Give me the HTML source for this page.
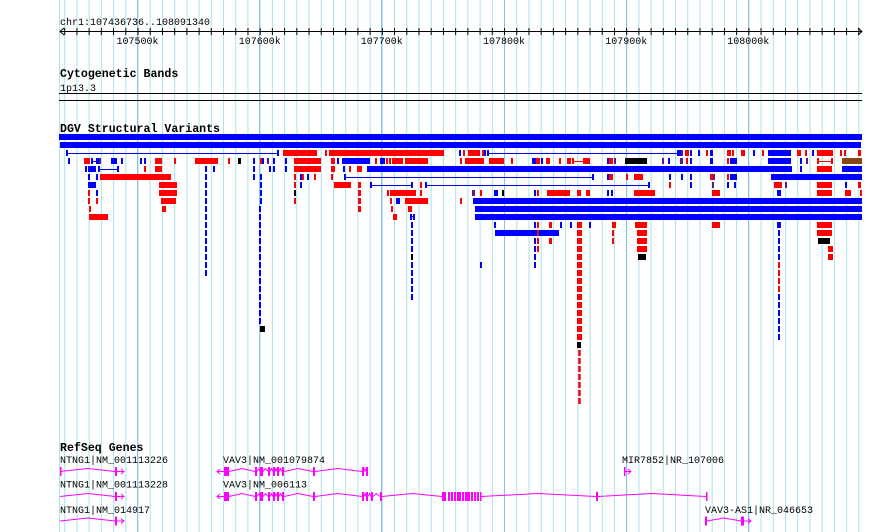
<!DOCTYPE html>
<html><head><meta charset="utf-8"><style>
html,body{margin:0;padding:0;background:#fff;}
svg{display:block;}
text{font-family:"Liberation Mono",monospace;font-size:10px;fill:#000;}
.t{font-weight:bold;font-size:11.6px;}
.r{fill:#ff0000}.b{fill:#0000ff}.k{fill:#000}.p{fill:#5a1a8a}.n{fill:#8b4513}
.g{fill:#ff00ff}
</style></head><body>
<svg width="890" height="532" viewBox="0 0 890 532" xmlns="http://www.w3.org/2000/svg">
<defs>
<pattern id="grid" patternUnits="userSpaceOnUse" x="64.2" y="0" width="12.217" height="10">
<rect x="0" y="0" width="1" height="10" fill="#a9e3ec"/>
</pattern>
<pattern id="tk" patternUnits="userSpaceOnUse" x="64.2" y="0" width="12.217" height="10">
<rect x="0" y="0" width="1" height="10" fill="#000"/>
</pattern>
</defs>
<rect x="0" y="0" width="890" height="532" fill="#fff"/>
<rect x="64" y="0" width="796" height="532" fill="url(#grid)"/>
<rect x="59" y="0" width="1" height="532" fill="#a9e3ec"/>
<g fill="#86c4e4">
<rect x="137" y="0" width="1" height="532"/><rect x="259" y="0" width="1" height="532"/>
<rect x="381" y="0" width="1" height="532"/><rect x="504" y="0" width="1" height="532"/>
<rect x="626" y="0" width="1" height="532"/><rect x="748" y="0" width="1" height="532"/>
</g>

<!-- ruler -->
<text x="60" y="25">chr1:107436736..108091340</text>
<rect x="60" y="31" width="802" height="1" fill="#000"/>
<rect x="64" y="28" width="796" height="7" fill="url(#tk)"/>
<path d="M64 28 L60 31.5 L64 35 M858 28 L862 31.5 L858 35" stroke="#000" fill="none"/>
<g text-anchor="middle">
<text x="137.5" y="44">107500k</text><text x="259.7" y="44">107600k</text>
<text x="381.8" y="44">107700k</text><text x="504" y="44">107800k</text>
<text x="626.2" y="44">107900k</text><text x="748.3" y="44">108000k</text>
</g>

<text class="t" x="60" y="77">Cytogenetic Bands</text>
<text x="60" y="91">1p13.3</text>
<rect x="59" y="93" width="803" height="1" fill="#000"/>
<rect x="59" y="100" width="803" height="1" fill="#000"/>

<text class="t" x="60" y="132">DGV Structural Variants</text>
<rect class="b" x="59" y="134" width="803" height="6"/>
<rect class="b" x="60" y="142" width="801" height="6"/>

<!-- row2 y150 -->
<g>
<rect class="b" x="66" y="153" width="212" height="1"/><rect class="b" x="66" y="150" width="2" height="6"/><rect class="b" x="277" y="150" width="2" height="6"/>
<rect class="r" x="283" y="150" width="34" height="6"/><rect class="r" x="325" y="150" width="2" height="6"/><rect class="r" x="329" y="150" width="115" height="6"/>
<rect class="b" x="459" y="150" width="2" height="6"/><rect class="r" x="463" y="150" width="2" height="6"/><rect class="r" x="468" y="150" width="12" height="6"/>
<rect class="r" x="482" y="150" width="2" height="6"/><rect class="b" x="484" y="150" width="2" height="6"/><rect class="b" x="487" y="150" width="2" height="6"/>
<rect class="b" x="489" y="153" width="188" height="1"/><rect class="b" x="677" y="150" width="5" height="6"/><rect class="p" x="681" y="150" width="2" height="6"/>
<rect class="r" x="685" y="150" width="4" height="6"/><rect class="b" x="690" y="150" width="2" height="6"/><rect class="b" x="698" y="150" width="2" height="6"/>
<rect class="r" x="706" y="150" width="2" height="6"/><rect class="b" x="710" y="150" width="3" height="6"/><rect class="r" x="727" y="150" width="4" height="6"/>
<rect class="r" x="732" y="150" width="2" height="6"/><rect class="r" x="741" y="150" width="4" height="6"/><rect class="b" x="753" y="150" width="2" height="6"/>
<rect class="r" x="762" y="150" width="2" height="6"/><rect class="b" x="768" y="150" width="23" height="6"/><rect class="r" x="797" y="150" width="4" height="6"/>
<rect class="r" x="805" y="150" width="2" height="6"/><rect class="b" x="812" y="150" width="2" height="6"/><rect class="r" x="817" y="150" width="16" height="6"/>
<rect class="r" x="840" y="150" width="2" height="6"/><rect class="r" x="844" y="150" width="2" height="6"/><rect class="r" x="858" y="150" width="3" height="6"/>
</g>
<!-- row3 y158 -->
<g>
<rect class="b" x="68" y="158" width="2" height="6"/><rect class="r" x="84" y="158" width="6" height="6"/><rect class="b" x="91" y="158" width="2" height="6"/>
<rect class="b" x="93" y="161" width="4" height="1"/><rect class="b" x="96" y="158" width="3" height="6"/><rect class="p" x="99" y="158" width="2" height="6"/>
<rect class="b" x="111" y="158" width="6" height="6"/><rect class="b" x="121" y="158" width="2" height="6"/><rect class="b" x="140" y="158" width="2" height="6"/>
<rect class="b" x="144" y="158" width="2" height="6"/><rect class="r" x="155" y="158" width="7" height="6"/><rect class="r" x="174" y="158" width="2" height="6"/>
<rect class="r" x="195" y="158" width="23" height="6"/><rect class="r" x="228" y="158" width="2" height="6"/><rect class="k" x="238" y="158" width="3" height="6"/>
<rect class="b" x="253" y="158" width="2" height="6"/><rect class="r" x="260" y="158" width="2" height="6"/><rect class="b" x="262" y="158" width="2" height="6"/>
<rect class="p" x="267" y="158" width="2" height="6"/><rect class="b" x="273" y="158" width="2" height="6"/><rect class="b" x="285" y="158" width="2" height="6"/>
<rect class="r" x="294" y="158" width="27" height="6"/><rect class="r" x="331" y="158" width="4" height="6"/><rect class="b" x="337" y="158" width="2" height="6"/>
<rect class="b" x="342" y="158" width="28" height="6"/><rect class="r" x="375" y="158" width="2" height="6"/><rect class="b" x="380" y="158" width="5" height="6"/>
<rect class="r" x="386" y="158" width="2" height="6"/><rect class="r" x="389" y="158" width="2" height="6"/><rect class="r" x="392" y="158" width="11" height="6"/>
<rect class="r" x="405" y="158" width="23" height="6"/><rect class="r" x="460" y="158" width="2" height="6"/><rect class="r" x="465" y="158" width="19" height="6"/>
<rect class="r" x="489" y="158" width="15" height="6"/><rect class="r" x="511" y="158" width="2" height="6"/><rect class="b" x="532" y="158" width="4" height="6"/>
<rect class="r" x="536" y="158" width="4" height="6"/><rect class="b" x="541" y="158" width="2" height="6"/><rect class="r" x="546" y="158" width="4" height="6"/>
<rect class="r" x="559" y="158" width="2" height="6"/><rect class="r" x="567" y="158" width="4" height="6"/>
<rect class="r" x="572" y="158" width="2" height="6"/><rect class="r" x="572" y="161" width="12" height="1"/><rect class="r" x="583" y="158" width="7" height="6"/>
<rect class="b" x="607" y="158" width="2" height="6"/><rect class="r" x="609" y="158" width="4" height="6"/><rect class="p" x="614" y="158" width="2" height="6"/>
<rect class="k" x="625" y="158" width="22" height="6"/><rect class="p" x="662" y="158" width="2" height="6"/><rect class="b" x="668" y="158" width="2" height="6"/>
<rect class="p" x="680" y="158" width="3" height="6"/><rect class="r" x="686" y="158" width="2" height="6"/><rect class="b" x="690" y="158" width="2" height="6"/>
<rect class="b" x="710" y="158" width="3" height="6"/><rect class="r" x="727" y="158" width="2" height="6"/><rect class="b" x="730" y="158" width="7" height="6"/>
<rect class="b" x="768" y="158" width="23" height="6"/><rect class="b" x="800" y="158" width="2" height="6"/><rect class="p" x="806" y="158" width="2" height="6"/>
<rect class="r" x="817" y="158" width="2" height="6"/><rect class="r" x="819" y="161" width="12" height="1"/><rect class="r" x="831" y="158" width="2" height="6"/>
<rect class="n" x="842" y="158" width="20" height="6"/>
</g>
<!-- row4 y166 -->
<g>
<rect class="b" x="85" y="166" width="2" height="6"/><rect class="b" x="88" y="166" width="8" height="6"/>
<rect class="b" x="98" y="166" width="2" height="6"/><rect class="b" x="98" y="169" width="20" height="1"/><rect class="b" x="117" y="166" width="2" height="6"/>
<rect class="r" x="144" y="166" width="2" height="6"/><rect class="r" x="155" y="166" width="7" height="6"/><rect class="b" x="205" y="166" width="2" height="6"/>
<rect class="b" x="213" y="166" width="2" height="6"/><rect class="b" x="253" y="166" width="2" height="6"/><rect class="b" x="269" y="166" width="2" height="6"/>
<rect class="b" x="273" y="166" width="2" height="6"/><rect class="b" x="285" y="166" width="2" height="6"/><rect class="r" x="294" y="166" width="27" height="6"/>
<rect class="r" x="331" y="166" width="4" height="6"/><rect class="b" x="343" y="166" width="2" height="6"/><rect class="r" x="349" y="166" width="2" height="6"/>
<rect class="r" x="357" y="166" width="5" height="6"/><rect class="b" x="367" y="166" width="425" height="6"/><rect class="b" x="800" y="166" width="2" height="6"/>
<rect class="r" x="817" y="166" width="15" height="6"/><rect class="b" x="842" y="166" width="20" height="6"/>
</g>
<!-- row5 y174 -->
<g>
<rect class="b" x="88" y="174" width="2" height="6"/><rect class="b" x="96" y="174" width="2" height="6"/><rect class="r" x="100" y="174" width="71" height="6"/>
<rect class="b" x="205" y="174" width="2" height="6"/><rect class="b" x="253" y="174" width="2" height="6"/><rect class="b" x="260" y="174" width="2" height="6"/>
<rect class="r" x="294" y="174" width="2" height="6"/><rect class="b" x="300" y="174" width="2" height="6"/><rect class="r" x="302" y="174" width="2" height="6"/>
<rect class="b" x="307" y="174" width="2" height="6"/><rect class="r" x="314" y="174" width="2" height="6"/><rect class="r" x="331" y="174" width="2" height="6"/>
<rect class="b" x="344" y="174" width="2" height="6"/><rect class="b" x="346" y="177" width="247" height="1"/><rect class="b" x="592" y="174" width="2" height="6"/>
<rect class="b" x="607" y="174" width="2" height="6"/><rect class="r" x="609" y="174" width="4" height="6"/><rect class="r" x="626" y="174" width="2" height="6"/>
<rect class="r" x="634" y="174" width="9" height="6"/><rect class="b" x="669" y="174" width="2" height="6"/><rect class="b" x="681" y="174" width="2" height="6"/>
<rect class="b" x="690" y="174" width="2" height="6"/><rect class="r" x="710" y="174" width="3" height="6"/><rect class="p" x="713" y="174" width="2" height="6"/>
<rect class="r" x="727" y="174" width="2" height="6"/><rect class="b" x="730" y="174" width="7" height="6"/><rect class="b" x="771" y="174" width="91" height="6"/>
</g>
<!-- row6 y182 -->
<g>
<rect class="b" x="88" y="182" width="8" height="6"/><rect class="r" x="159" y="182" width="18" height="6"/><rect class="b" x="205" y="182" width="2" height="6"/>
<rect class="b" x="260" y="182" width="2" height="6"/><rect class="r" x="294" y="182" width="2" height="6"/><rect class="b" x="300" y="182" width="2" height="6"/>
<rect class="r" x="334" y="182" width="17" height="6"/><rect class="r" x="358" y="182" width="3" height="6"/><rect class="b" x="370" y="182" width="2" height="6"/>
<rect class="b" x="372" y="185" width="39" height="1"/><rect class="b" x="411" y="182" width="2" height="6"/><rect class="r" x="420" y="182" width="2" height="6"/>
<rect class="b" x="425" y="182" width="2" height="6"/><rect class="b" x="427" y="185" width="222" height="1"/><rect class="b" x="648" y="182" width="2" height="6"/>
<rect class="r" x="669" y="182" width="2" height="6"/><rect class="b" x="690" y="182" width="2" height="6"/><rect class="p" x="712" y="182" width="2" height="6"/>
<rect class="b" x="727" y="182" width="2" height="6"/><rect class="b" x="734" y="182" width="2" height="6"/><rect class="r" x="774" y="182" width="8" height="6"/>
<rect class="p" x="785" y="182" width="2" height="6"/><rect class="r" x="817" y="182" width="15" height="6"/><rect class="b" x="845" y="182" width="2" height="6"/>
<rect class="r" x="858" y="182" width="3" height="6"/>
</g>
<!-- row7 y190 -->
<g>
<rect class="r" x="88" y="190" width="2" height="6"/><rect class="b" x="96" y="190" width="2" height="6"/><rect class="r" x="159" y="190" width="18" height="6"/>
<rect class="b" x="205" y="190" width="2" height="6"/><rect class="b" x="260" y="190" width="2" height="6"/><rect class="k" x="294" y="190" width="2" height="6"/>
<rect class="r" x="358" y="190" width="3" height="6"/><rect class="r" x="387" y="190" width="2" height="6"/><rect class="r" x="390" y="190" width="26" height="6"/>
<rect class="r" x="420" y="190" width="2" height="6"/><rect class="p" x="472" y="190" width="3" height="6"/><rect class="r" x="480" y="190" width="2" height="6"/>
<rect class="b" x="494" y="190" width="4" height="6"/><rect class="k" x="502" y="190" width="2" height="6"/><rect class="b" x="534" y="190" width="2" height="6"/>
<rect class="r" x="537" y="190" width="2" height="6"/><rect class="r" x="547" y="190" width="23" height="6"/><rect class="r" x="577" y="190" width="4" height="6"/>
<rect class="r" x="586" y="190" width="4" height="6"/><rect class="b" x="607" y="190" width="2" height="6"/><rect class="b" x="611" y="190" width="2" height="6"/>
<rect class="r" x="634" y="190" width="21" height="6"/><rect class="r" x="712" y="190" width="8" height="6"/><rect class="b" x="777" y="190" width="4" height="6"/>
<rect class="r" x="817" y="190" width="15" height="6"/><rect class="r" x="845" y="190" width="6" height="6"/><rect class="r" x="860" y="190" width="2" height="6"/>
</g>
<!-- row8 y198 -->
<g>
<rect class="r" x="88" y="198" width="2" height="6"/><rect class="r" x="96" y="198" width="2" height="6"/><rect class="r" x="161" y="198" width="15" height="6"/>
<rect class="b" x="205" y="198" width="2" height="6"/><rect class="b" x="260" y="198" width="2" height="6"/><rect class="r" x="294" y="198" width="2" height="6"/>
<rect class="r" x="358" y="198" width="3" height="6"/><rect class="r" x="390" y="198" width="2" height="6"/><rect class="b" x="396" y="198" width="4" height="6"/>
<rect class="r" x="405" y="198" width="23" height="6"/><rect class="r" x="460" y="198" width="2" height="6"/><rect class="b" x="473" y="198" width="389" height="6"/>
</g>
<!-- row9 y206 -->
<g>
<rect class="r" x="89" y="206" width="2" height="6"/><rect class="r" x="162" y="206" width="4" height="6"/><rect class="b" x="205" y="206" width="2" height="6"/>
<rect class="b" x="259" y="206" width="2" height="6"/><rect class="r" x="358" y="206" width="3" height="6"/><rect class="r" x="391" y="206" width="2" height="6"/>
<rect class="r" x="408" y="206" width="4" height="6"/><rect class="b" x="475" y="206" width="387" height="6"/>
</g>
<!-- row10 y214 -->
<g>
<rect class="r" x="89" y="214" width="19" height="6"/><rect class="b" x="205" y="214" width="2" height="6"/><rect class="b" x="259" y="214" width="2" height="6"/>
<rect class="r" x="393" y="214" width="4" height="6"/><rect class="b" x="410" y="214" width="2" height="6"/><rect class="b" x="412" y="216" width="2" height="1"/><rect class="b" x="413" y="214" width="2" height="6"/>
<rect class="b" x="475" y="214" width="387" height="6"/>
</g>
<!-- row11 y222 -->
<g>
<rect class="b" x="494" y="222" width="2" height="6"/><rect class="b" x="560" y="222" width="2" height="6"/><rect class="b" x="570" y="222" width="2" height="6"/>
<rect class="r" x="549" y="222" width="3" height="6"/><rect class="b" x="589" y="222" width="2" height="6"/><rect class="r" x="612" y="222" width="4" height="6"/>
<rect class="r" x="635" y="222" width="12" height="6"/><rect class="r" x="712" y="222" width="8" height="6"/><rect class="r" x="817" y="222" width="15" height="6"/>
<rect class="b" x="777" y="222" width="4" height="6"/>
</g>
<!-- row12 y230 -->
<g>
<rect class="b" x="495" y="230" width="64" height="6"/><rect class="r" x="612" y="230" width="2" height="6"/><rect class="r" x="637" y="230" width="10" height="6"/>
<rect class="r" x="817" y="230" width="15" height="6"/>
</g>
<!-- row13+ -->
<g>
<rect class="r" x="549" y="238" width="3" height="6"/><rect class="r" x="612" y="238" width="2" height="6"/><rect class="r" x="637" y="238" width="10" height="6"/>
<rect class="k" x="818" y="238" width="12" height="6"/>
<rect class="r" x="637" y="246" width="10" height="6"/><rect class="r" x="828" y="246" width="5" height="6"/>
<rect class="k" x="638" y="254" width="8" height="6"/><rect class="r" x="828" y="254" width="5" height="6"/>
<rect class="b" x="480" y="262" width="2" height="6"/>
</g>
<!-- dashed verticals -->
<g stroke-dasharray="6 2" fill="none">
<line x1="206" y1="222" x2="206" y2="276" stroke="#0000ff" stroke-width="2"/>
<line x1="260" y1="222" x2="260" y2="324" stroke="#0000ff" stroke-width="2"/>
<line x1="412" y1="222" x2="412" y2="300" stroke="#0000ff" stroke-width="2"/>
<line x1="535" y1="222" x2="535" y2="268" stroke="#0000ff" stroke-width="2"/>
<line x1="538" y1="222" x2="538" y2="252" stroke="#ff0000" stroke-width="2"/>
<line x1="579.5" y1="222" x2="579.5" y2="340" stroke="#ff0000" stroke-width="5"/>
<line x1="579.5" y1="350" x2="579.5" y2="404" stroke="#ff0000" stroke-width="2.5"/>
<line x1="779" y1="230" x2="779" y2="340" stroke="#0000ff" stroke-width="2"/>
<line x1="779" y1="262" x2="779" y2="292" stroke="#ff0000" stroke-width="2"/>
</g>
<rect class="k" x="260" y="326" width="5" height="6"/>
<rect class="k" x="577" y="342" width="4" height="6"/>
<rect class="k" x="411" y="254" width="2" height="6"/>

<!-- RefSeq -->
<text class="t" x="60" y="451">RefSeq Genes</text>
<text x="60" y="463">NTNG1|NM_001113226</text>
<text x="223" y="463">VAV3|NM_001079874</text>
<text x="622" y="463">MIR7852|NR_107006</text>
<text x="60" y="487.5">NTNG1|NM_001113228</text>
<text x="223" y="487.5">VAV3|NM_006113</text>
<text x="60" y="513">NTNG1|NM_014917</text>
<text x="705" y="513">VAV3-AS1|NR_046653</text>

<g stroke="#ff00ff" stroke-width="1" fill="none">
<!-- row1 -->
<path d="M60 471.5 L88 468.5 L115 471.5 M117 471.5 H124 M121 469 L124 471.5 L121 474"/>
<path d="M220 469 L217 471.5 L220 474 M217 471.5 H224 M229 471.5 L242 468.5 L255 471.5 M257 471.5 L259 468.5 L260 471.5 M263 471.5 L265.5 468.5 L268 471.5 M270 471.5 L271.5 468.5 L273 471.5 M275 471.5 L276 468.5 L277 471.5 M279 471.5 L280.5 468.5 L282 471.5 M284 471.5 L298 468.5 L313 471.5 M315 471.5 L338 468.5 L362 471.5 M364 471.5 L365 468.5 L366 471.5"/>
<path d="M625 471.5 H631 M628 469 L631 471.5 L628 474"/>
<!-- row2 -->
<path d="M60 496.5 L88 493.5 L115 496.5 M117 496.5 H124 M121 494 L124 496.5 L121 499"/>
<path d="M220 494 L217 496.5 L220 499 M217 496.5 H224 M229 496.5 L242 493.5 L255 496.5 M257 496.5 L259 493.5 L260 496.5 M263 496.5 L265.5 493.5 L268 496.5 M270 496.5 L271.5 493.5 L273 496.5 M275 496.5 L276 493.5 L277 496.5 M279 496.5 L280.5 493.5 L282 496.5 M284 496.5 L298 493.5 L313 496.5 M315 496.5 L338 493.5 L362 496.5 M364 496.5 L365 493.5 L366 496.5 M368 496.5 L369.5 493.5 L371 496.5 M373 496.5 L376.5 493.5 L380 496.5 M382 496.5 L412 493.5 L442 496.5 M481 496.5 L538 493.5 L596 496.5 M598 496.5 L652 493.5 L706 496.5"/>
<!-- row3 -->
<path d="M60 521 L88 518 L115 521 M117 521 H124 M121 518.5 L124 521 L121 523.5"/>
<path d="M707 521 L724 518 L741 521 M744 521 H751 M748 518.5 L751 521 L748 523.5"/>
</g>
<g class="g">
<rect x="60" y="467" width="1.5" height="9"/><rect x="115" y="467" width="2" height="9"/>
<rect x="224" y="467" width="5" height="9"/><rect x="255" y="467" width="2" height="9"/><rect x="260" y="467" width="3" height="9"/>
<rect x="268" y="467" width="2" height="9"/><rect x="273" y="467" width="2" height="9"/><rect x="277" y="467" width="2" height="9"/>
<rect x="282" y="467" width="2" height="9"/><rect x="313" y="467" width="2" height="9"/><rect x="362" y="467" width="2" height="9"/><rect x="366" y="467" width="2" height="9"/>
<rect x="624" y="467" width="1.5" height="9"/>
<rect x="115" y="492" width="2" height="9"/>
<rect x="224" y="492" width="5" height="9"/><rect x="255" y="492" width="2" height="9"/><rect x="260" y="492" width="3" height="9"/>
<rect x="268" y="492" width="2" height="9"/><rect x="273" y="492" width="2" height="9"/><rect x="277" y="492" width="2" height="9"/>
<rect x="282" y="492" width="2" height="9"/><rect x="313" y="492" width="2" height="9"/><rect x="362" y="492" width="2" height="9"/><rect x="366" y="492" width="2" height="9"/>
<rect x="371" y="492" width="2" height="9"/><rect x="380" y="492" width="2" height="9"/>
<rect x="442" y="492" width="4" height="9"/><rect x="448" y="492" width="2" height="9"/><rect x="451" y="492" width="2" height="9"/>
<rect x="454" y="492" width="2" height="9"/><rect x="457" y="492" width="4" height="9"/><rect x="462" y="492" width="2" height="9"/>
<rect x="465" y="492" width="5" height="9"/><rect x="471" y="492" width="2" height="9"/><rect x="474" y="492" width="2" height="9"/>
<rect x="477" y="492" width="2" height="9"/><rect x="480" y="492" width="1.5" height="9"/>
<rect x="596" y="492" width="2" height="9"/><rect x="706" y="492" width="1.5" height="9"/>
<rect x="115" y="516.5" width="2" height="9"/>
<rect x="705" y="516.5" width="2" height="9"/><rect x="741" y="516.5" width="3" height="9"/>
</g>
</svg>
</body></html>
